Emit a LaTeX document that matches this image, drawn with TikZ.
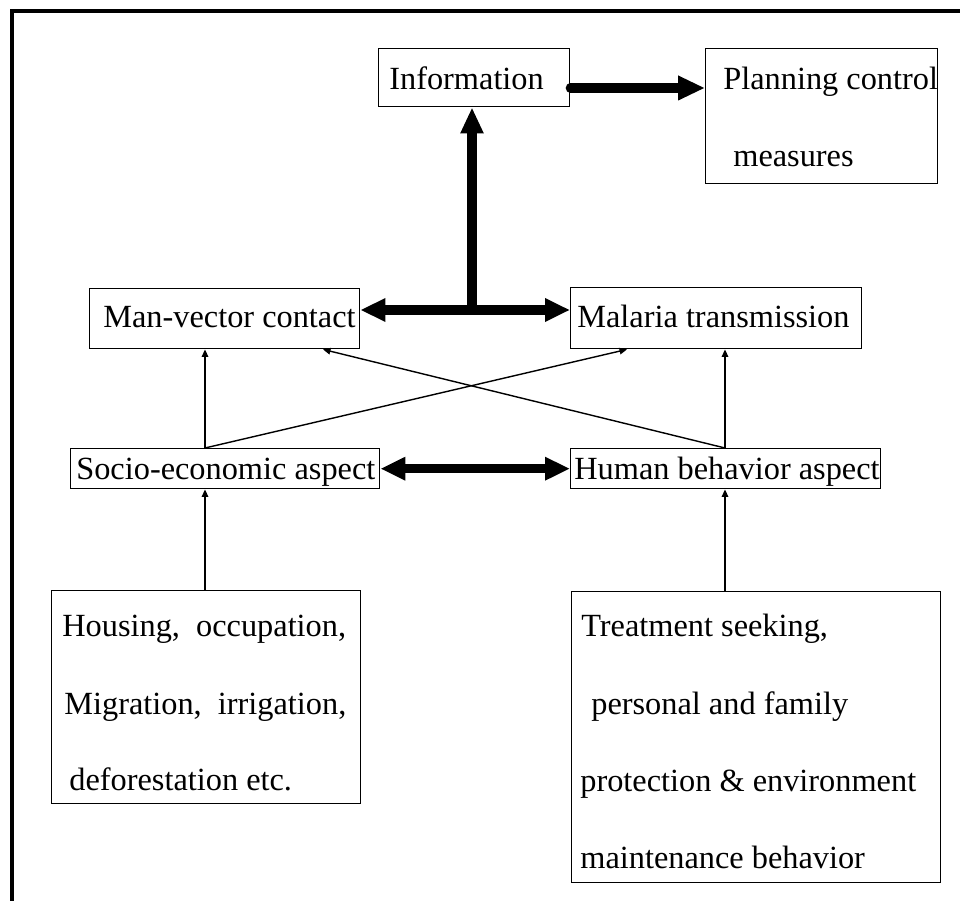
\documentclass[tikz,border=0pt]{standalone}
\usepackage{fontspec}
\setmainfont{Liberation Serif}
\usepackage{xcolor}
\usepackage{tikz}
\usetikzlibrary{calc}
\usetikzlibrary{arrows.meta}

\tikzset{
    box/.style={draw, line width=0.8pt, inner sep=0pt, anchor=north west},
    lbl/.style={anchor=base west, inner sep=0pt, font=\fontsize{18.4}{22}\selectfont},
    thinarrow/.style={line width=0.8pt, -{Triangle[length=1.5mm, width=1.3mm]}},
    fatarrow/.style={line width=1.9mm, -{Triangle[length=5.4mm, width=4.6mm]}},
    fatboth/.style={line width=1.9mm, {Triangle[length=5mm, width=4.4mm]}-{Triangle[length=5mm, width=4.4mm]}},
}

\begin{document}
\begin{tikzpicture}[x=0.2mm, y=-0.2mm]

    %% Page size
    \useasboundingbox (0,0) rectangle (968,901);

    %% Frame (left and top only)
    \draw[line width=0.8mm] (12,901) -- (12,11) -- (960,11);

    %% --- Boxes ---
    \node[box, minimum width=38.2mm, minimum height=11.6mm] (info)   at (378,48)  {};
    \node[box, minimum width=46.4mm, minimum height=27mm]   (plan)   at (705,48)  {};
    \node[box, minimum width=54mm,   minimum height=12mm]   (manvec) at (89,288)  {};
    \node[box, minimum width=58.2mm, minimum height=12.2mm] (malaria) at (570,287) {};
    \node[box, minimum width=61.8mm, minimum height=8mm]    (socio)  at (70,448)  {};
    \node[box, minimum width=62mm,   minimum height=8mm]    (human)  at (570,448) {};
    \node[box, minimum width=61.8mm, minimum height=42.6mm] (housing) at (51,590) {};
    \node[box, minimum width=73.8mm, minimum height=58.2mm] (treat)  at (571,591) {};

    %% --- Texts ---
    \node[lbl] (tInfo)  at (389,90)  {Information};
    \node[lbl] (tPlanA) at (723,90)  {Planning control};
    \node[lbl] (tPlanB) at (733,167) {measures};
    \node[lbl] (tMan)   at (103,328) {Man-vector contact};
    \node[lbl] (tMal)   at (577,328) {Malaria transmission};
    \node[lbl] (tSoc)   at (76,480)  {Socio-economic aspect};
    \node[lbl] (tHum)   at (574,480) {Human behavior aspect};

    \node[lbl] (tHouA) at (62,637) {Housing,\ \ occupation,};
    \node[lbl] (tHouB) at (64,715) {Migration,\ \ irrigation,};
    \node[lbl] (tHouC) at (69,790) {deforestation etc.};

    \node[lbl] (tTreA) at (581,637) {Treatment seeking,};
    \node[lbl] (tTreB) at (591,715) {personal and family};
    \node[lbl] (tTreC) at (580,792) {protection \& environment};
    \node[lbl] (tTreD) at (580,868) {maintenance behavior};

    %% --- Helper coordinates for connector positions ---
    \coordinate (yInfo) at (0,88);
    \coordinate (yMid)  at (0,310);
    \coordinate (xUp)   at (472,0);
    \coordinate (xL)    at (205,0);
    \coordinate (xR)    at (725,0);
    \coordinate (xMal)  at (627,0);
    \coordinate (xMan)  at (323,0);

    %% --- Thick connectors ---
    \draw[fatarrow, line cap=round] (info.east |- yInfo) -- (plan.west |- yInfo);
    \draw[fatboth] (manvec.east |- yMid) -- (malaria.west |- yMid);
    \draw[line width=1.9mm, -{Triangle[length=5.2mm, width=4.3mm]}] (xUp |- yMid) -- (info.south -| xUp);
    \draw[fatboth] (socio.east) -- (human.west);

    %% --- Thin connectors ---
    \draw[thinarrow] (socio.north -| xL) -- (manvec.south -| xL);
    \draw[thinarrow] (socio.north -| xL) -- (malaria.south -| xMal);
    \draw[thinarrow] (human.north -| xR) -- (malaria.south -| xR);
    \draw[thinarrow] (human.north -| xR) -- (manvec.south -| xMan);
    \draw[thinarrow] (housing.north -| xL) -- (socio.south -| xL);
    \draw[thinarrow] (treat.north -| xR) -- (human.south -| xR);

\end{tikzpicture}
\end{document}
